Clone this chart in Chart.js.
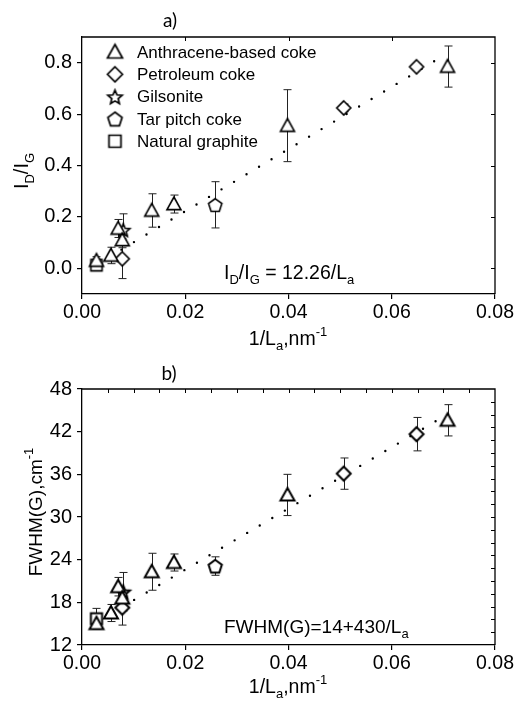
<!DOCTYPE html>
<html><head><meta charset="utf-8">
<script src="https://cdn.jsdelivr.net/npm/chart.js@4/dist/chart.umd.min.js"></script>
<style>
html,body{margin:0;padding:0;background:#fff;width:517px;height:711px;overflow:hidden}
.box{position:absolute;left:0;width:517px}
#b1{top:0;height:355px} #b2{top:355px;height:356px}
canvas{display:block}
</style></head><body>
<div class="box" id="b1"><canvas id="c1" width="517" height="355"></canvas></div>
<div class="box" id="b2"><canvas id="c2" width="517" height="356"></canvas></div>
<script>
// ---------- data ----------
const seriesNames = ['Anthracene-based coke','Petroleum coke','Gilsonite','Tar pitch coke','Natural graphite'];

const xAnth   = [0.0028, 0.0056, 0.0070, 0.0078, 0.0135, 0.0178, 0.0398, 0.0708];
const idAnth  = [0.030, 0.050, 0.155, 0.110, 0.225, 0.250, 0.555, 0.785];
const idAnthE = [0.015, 0.032, 0.035, 0.030, 0.065, 0.035, 0.140, 0.080];
const fwAnth  = [15.0, 16.5, 20.2, 18.6, 22.3, 23.6, 33.1, 43.6];
const fwAnthE = [0.4, 1.2, 1.3, 1.0, 2.6, 1.2, 2.9, 2.2];

const xPet    = [0.0078, 0.0507, 0.0648];
const idPet   = [0.037, 0.624, 0.784];
const idPetE  = [0.077, 0.015, 0.010];
const fwPet   = [17.25, 36.1, 41.65];
const fwPetE  = [2.45, 2.2, 2.35];

const xGil    = [0.0080];
const idGil   = [0.150];
const idGilE  = [0.062];
const fwGil   = [19.5];
const fwGilE  = [2.7];

const xTar    = [0.0258];
const idTar   = [0.247];
const idTarE  = [0.090];
const fwTar   = [23.1];
const fwTarE  = [1.3];

const xNat    = [0.0028];
const idNat   = [0.012];
const idNatE  = [0.010];
const fwNat   = [15.7];
const fwNatE  = [1.45];

const fitX    = [0.0028, 0.0695];
const fitA    = [0.014, 0.821];
const fitB    = [15.2, 43.9];

const xTicks  = [0, 0.02, 0.04, 0.06, 0.08];
const yTicksA = [0.0, 0.2, 0.4, 0.6, 0.8];
const yTicksB = [12, 18, 24, 30, 36, 42, 48];

// ---------- markers ----------
function marker(shape, size, lw){
  const pad = 3, S = Math.ceil(size + pad*2);
  const c = document.createElement('canvas'); c.width = S; c.height = S;
  const g = c.getContext('2d'); const cx = S/2, cy = S/2, r = size/2;
  g.beginPath();
  if (shape === 'tri') {
    g.moveTo(cx, cy - r); g.lineTo(cx + r, cy + r*0.8); g.lineTo(cx - r, cy + r*0.8); g.closePath();
  } else if (shape === 'dia') {
    g.moveTo(cx, cy - r); g.lineTo(cx + r, cy); g.lineTo(cx, cy + r); g.lineTo(cx - r, cy); g.closePath();
  } else if (shape === 'star') {
    for (let i = 0; i < 10; i++) {
      const a = -Math.PI/2 + i*Math.PI/5, rr = (i % 2 === 0) ? r : r*0.45;
      const px = cx + rr*Math.cos(a), py = cy + 1 + rr*Math.sin(a);
      i ? g.lineTo(px, py) : g.moveTo(px, py);
    }
    g.closePath();
  } else if (shape === 'pent') {
    for (let i = 0; i < 5; i++) {
      const a = -Math.PI/2 + i*2*Math.PI/5;
      const px = cx + r*Math.cos(a), py = cy + 0.8 + r*Math.sin(a);
      i ? g.lineTo(px, py) : g.moveTo(px, py);
    }
    g.closePath();
  } else {
    const h = r*0.8; g.rect(cx - h, cy - h, 2*h, 2*h);
  }
  g.fillStyle = '#fff'; g.fill();
  g.lineWidth = lw; g.strokeStyle = '#000'; g.lineJoin = 'miter'; g.stroke();
  return c;
}
const shapes = ['tri','dia','star','pent','sq'];

// ---------- rich text helper ----------
const FF = "'Liberation Sans', Arial, sans-serif";
function richWidth(ctx, parts, size){
  let w = 0;
  parts.forEach(p => { ctx.font = ((p.sub||p.sup) ? Math.round(size*0.66) : size) + 'px ' + FF; w += ctx.measureText(p.t).width; });
  return w;
}
function drawRich(ctx, parts, x, y, size, align){
  let w = richWidth(ctx, parts, size);
  let cx = align === 'center' ? x - w/2 : x;
  ctx.textBaseline = 'alphabetic'; ctx.textAlign = 'left'; ctx.fillStyle = '#000';
  parts.forEach(p => {
    const small = p.sub || p.sup;
    ctx.font = (small ? Math.round(size*0.66) : size) + 'px ' + FF;
    const dy = p.sub ? size*0.28 : (p.sup ? -size*0.45 : 0);
    ctx.fillText(p.t, cx, y + dy);
    cx += ctx.measureText(p.t).width;
  });
}

// ---------- plugins ----------
const errPlugin = {
  id: 'errbars',
  beforeDatasetsDraw(chart){
    const {ctx, scales:{x, y}} = chart;
    ctx.save(); ctx.strokeStyle = '#222'; ctx.lineWidth = 1;
    chart.data.datasets.forEach(ds => {
      if (!ds.err) return;
      ds.data.forEach((p, j) => {
        const e = ds.err[j]; const px = Math.round(x.getPixelForValue(p.x)) + 0.5;
        const y1 = y.getPixelForValue(p.y + e), y2 = y.getPixelForValue(p.y - e);
        ctx.beginPath();
        ctx.moveTo(px, y1); ctx.lineTo(px, y2);
        ctx.moveTo(px - 4, y1); ctx.lineTo(px + 4, y1);
        ctx.moveTo(px - 4, y2); ctx.lineTo(px + 4, y2);
        ctx.stroke();
      });
    });
    ctx.restore();
  }
};

function framePlugin(topStep, rightVals){
  return {
    id: 'frame',
    afterDraw(chart){
      const {ctx, chartArea:a, scales:{x, y}} = chart;
      ctx.save(); ctx.strokeStyle = '#000'; ctx.lineWidth = 1.3;
      ctx.beginPath();
      ctx.moveTo(a.left, a.top); ctx.lineTo(a.right, a.top); ctx.lineTo(a.right, a.bottom);
      ctx.stroke();
      ctx.lineWidth = 1;
      ctx.beginPath();
      for (let v = x.min + topStep; v < x.max - 1e-9; v += topStep) {
        const px = Math.round(x.getPixelForValue(v)) + 0.5;
        ctx.moveTo(px, a.top); ctx.lineTo(px, a.top + 4);
      }
      rightVals.forEach(v => {
        const py = Math.round(y.getPixelForValue(v)) + 0.5;
        ctx.moveTo(a.right, py); ctx.lineTo(a.right - 4, py);
      });
      ctx.stroke();
      ctx.restore();
    }
  };
}

function textPlugin(fn){ return { id: 'texts', afterDraw(chart){ const ctx = chart.ctx; ctx.save(); fn(chart, ctx); ctx.restore(); } }; }

// ---------- chart builder ----------
function pts(xs, ys){ return xs.map((v, i) => ({x: v, y: ys[i]})); }

function build(canvasId, opt){
  const mk = shapes.map(s => marker(s, opt.msize, opt.mlw));
  const sets = [
    {x: xAnth, y: opt.anth, e: opt.anthE},
    {x: xPet,  y: opt.pet,  e: opt.petE},
    {x: xGil,  y: opt.gil,  e: opt.gilE},
    {x: xTar,  y: opt.tar,  e: opt.tarE},
    {x: xNat,  y: opt.nat,  e: opt.natE}
  ];
  const datasets = [{
    label: 'fit', data: pts(fitX, opt.fit), showLine: true, borderColor: '#000',
    borderWidth: 2.4, borderDash: [0, 14.6], borderCapStyle: 'round', pointRadius: 0, order: 10
  }];
  sets.forEach((s, i) => datasets.push({
    label: seriesNames[i], data: pts(s.x, s.y), err: s.e, pointStyle: mk[i],
    pointRadius: 7, pointHoverRadius: 7, order: 1
  }));
  return new Chart(document.getElementById(canvasId), {
    type: 'scatter',
    data: { datasets },
    options: {
      responsive: false, animation: false, devicePixelRatio: 1,
      layout: { padding: { left: 0, right: 22, top: opt.top, bottom: 0 } },
      plugins: { legend: { display: false }, tooltip: { enabled: false } },
      scales: {
        x: {
          type: 'linear', min: 0, max: 0.08,
          afterBuildTicks: sc => { sc.ticks = xTicks.map(v => ({value: v})); },
          afterFit: sc => { sc.height = opt.xh; },
          ticks: { callback: v => v.toFixed(2), color: '#000', font: {family: FF, size: 19.5}, padding: 2, maxRotation: 0 },
          grid: { drawOnChartArea: false, drawTicks: true, tickLength: 5, color: '#000', lineWidth: 1.2 },
          border: { display: true, color: '#000', width: 1.3 }
        },
        y: {
          type: 'linear', min: opt.ymin, max: opt.ymax,
          afterBuildTicks: sc => { sc.ticks = opt.yticks.map(v => ({value: v})); },
          afterFit: sc => { sc.width = 82; },
          ticks: { callback: opt.yfmt, color: '#000', font: {family: FF, size: 20}, padding: 5 },
          grid: { drawOnChartArea: false, drawTicks: true, tickLength: 5, color: '#000', lineWidth: 1.2 },
          border: { display: true, color: '#000', width: 1.3 }
        }
      }
    },
    plugins: [errPlugin, framePlugin(opt.topStep, opt.rightVals), textPlugin(opt.texts)]
  });
}

// top panel
const rightA = yTicksA.slice();
build('c1', {
  anth: idAnth, anthE: idAnthE, pet: idPet, petE: idPetE, gil: idGil, gilE: idGilE,
  tar: idTar, tarE: idTarE, nat: idNat, natE: idNatE, fit: fitA,
  ymin: -0.1, ymax: 0.9, yticks: yTicksA, yfmt: v => v.toFixed(1),
  top: 37, xh: 61, msize: 14, mlw: 1.6, topStep: 0.02, rightVals: rightA,
  texts: (chart, ctx) => {
    ctx.font = "19px Lato, 'Open Sans', sans-serif"; ctx.fillStyle = '#000';
    ctx.textAlign = 'center'; ctx.textBaseline = 'alphabetic';
    ctx.fillText('a)', 170, 27);
    drawRich(ctx, [{t:'1/L'},{t:'a',sub:true},{t:',nm'},{t:'-1',sup:true}], 288, 345, 19.5, 'center');
    ctx.save(); ctx.translate(28, 171); ctx.rotate(-Math.PI/2);
    drawRich(ctx, [{t:'I'},{t:'D',sub:true},{t:'/I'},{t:'G',sub:true}], 0, 0, 20, 'center');
    ctx.restore();
    drawRich(ctx, [{t:'I'},{t:'D',sub:true},{t:'/I'},{t:'G',sub:true},{t:' = 12.26/L'},{t:'a',sub:true}], 224, 279, 19.5, 'left');
    // legend
    const lm = shapes.map(s => marker(s, 15, 1.7));
    seriesNames.forEach((n, i) => {
      const yy = 53 + i*22.3;
      ctx.drawImage(lm[i], 115 - lm[i].width/2, yy - lm[i].height/2 - 1);
      ctx.font = '17px ' + FF; ctx.textAlign = 'left'; ctx.textBaseline = 'middle'; ctx.fillStyle = '#000';
      ctx.fillText(n, 137, yy);
    });
  }
});

// bottom panel
const rightB = []; for (let i = 1; i < 20; i++) rightB.push(12 + i*1.8);
build('c2', {
  anth: fwAnth, anthE: fwAnthE, pet: fwPet, petE: fwPetE, gil: fwGil, gilE: fwGilE,
  tar: fwTar, tarE: fwTarE, nat: fwNat, natE: fwNatE, fit: fitB,
  ymin: 12, ymax: 48, yticks: yTicksB, yfmt: v => String(v),
  top: 34, xh: 66, msize: 14, mlw: 2, topStep: 0.005, rightVals: rightB,
  texts: (chart, ctx) => {
    ctx.font = "19px Lato, 'Open Sans', sans-serif"; ctx.fillStyle = '#000';
    ctx.textAlign = 'center'; ctx.textBaseline = 'alphabetic';
    ctx.fillText('b)', 169, 25);
    drawRich(ctx, [{t:'1/L'},{t:'a',sub:true},{t:',nm'},{t:'-1',sup:true}], 288, 338, 19.5, 'center');
    ctx.save(); ctx.translate(42, 157); ctx.rotate(-Math.PI/2);
    drawRich(ctx, [{t:'FWHM(G),cm'},{t:'-1',sup:true}], 0, 0, 19, 'center');
    ctx.restore();
    drawRich(ctx, [{t:'FWHM(G)=14+430/L'},{t:'a',sub:true}], 224, 278, 19, 'left');
  }
});
</script>
</body></html>
